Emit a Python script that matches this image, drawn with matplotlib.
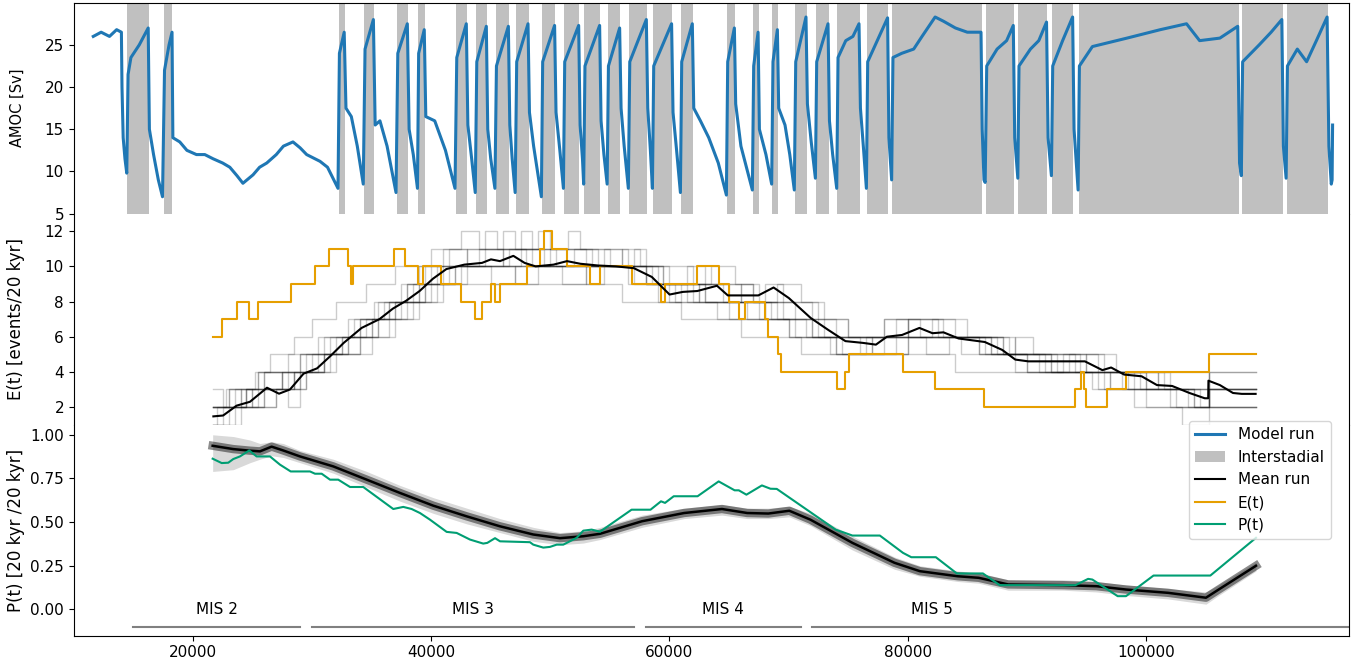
import matplotlib
matplotlib.use('Agg')
import matplotlib.pyplot as plt

# interstadial periods [yr]
is_start = [14494, 17574, 32237, 34386, 37130, 38893, 42082, 43761, 45414, 47118,
            49300, 51146, 52850, 54814, 56602, 58616, 60966, 64827, 67009, 68629,
            70534, 72297, 74085, 76577, 78701, 86565, 89276, 92104, 94345, 108051,
            111803]
is_end = [16316, 18271, 32766, 35200, 38053, 39480, 43005, 44684, 46530, 48184,
          50416, 52431, 54193, 55872, 58113, 60236, 61973, 65499, 67488, 69108,
          71516, 73363, 75964, 78365, 86229, 88915, 91710, 93892, 107799, 111467,
          115269]

# AMOC model run [Sv]
amoc_t = [11640, 12300, 13000, 13600, 14000, 14050, 14150, 14300, 14450,
          14560, 14800, 15500, 16250, 16350, 16700, 17100, 17450,
          17620, 18000, 18250, 18320, 18900, 19500, 20300, 21000, 21700, 22500,
          23100, 23700, 24200, 25050, 25600, 26200, 27000, 27600, 28400, 29000,
          29550, 30670, 31300, 31760, 32180,
          32300, 32700, 32850, 33300, 33800, 34300,
          34450, 35150, 35300, 35700, 36300, 37050,
          37200, 38000, 38150, 38500, 38850,
          38950, 39420, 39550, 40300, 41200, 42000,
          42150, 42950, 43080, 43400, 43700,
          43830, 44630, 44750, 45000, 45350,
          45480, 46480, 46600, 46800, 47050,
          47180, 48130, 48250, 48600, 49250,
          49360, 50360, 50480, 50800, 51100,
          51210, 52380, 52500, 52700, 52800,
          52910, 54140, 54260, 54500, 54770,
          54880, 55820, 55940, 56200, 56550,
          56670, 58060, 58180, 58400, 58570,
          58680, 60180, 60300, 60600, 60920,
          61030, 61920, 62040, 62600, 63300, 64100, 64780,
          64890, 65450, 65560, 66000, 66960,
          67070, 67440, 67550, 68100, 68580,
          68690, 69060, 69170, 69700, 70100, 70480,
          70600, 71460, 71580, 71900, 72250,
          72360, 73310, 73430, 73700, 74040,
          74150, 74800, 75400, 75910, 76030, 76300, 76530,
          76640, 78310, 78420, 78650,
          78760, 79500, 80500, 81200, 82300, 83000, 84000, 85000, 86150, 86250,
          86400, 86500,
          86630, 87500, 88300, 88860, 88980, 89240,
          89340, 90300, 91000, 91650, 91780, 92060,
          92170, 93000, 93840, 93960, 94300,
          94410, 95500, 98400, 101200, 103400, 104500, 106200, 107700, 107850,
          108000,
          108110, 109500, 110500, 111400, 111530, 111760,
          111870, 112700, 113480, 114300, 115200, 115350, 115550, 115620, 115660]
amoc_v = [26.0, 26.5, 26.0, 26.8, 26.5, 20.0, 14.0, 11.5, 9.8,
          21.5, 23.5, 25.0, 27.0, 15.0, 12.0, 9.0, 7.0,
          22.0, 25.0, 26.5, 14.0, 13.5, 12.5, 12.0, 12.0, 11.5, 11.0,
          10.5, 9.5, 8.6, 9.6, 10.5, 11.0, 12.0, 13.0, 13.5, 12.8,
          12.0, 11.2, 10.5, 9.2, 8.0,
          24.0, 26.5, 17.5, 16.5, 13.0, 8.5,
          24.5, 28.0, 15.5, 16.0, 13.0, 7.5,
          24.0, 27.5, 15.0, 12.0, 8.0,
          24.0, 26.8, 16.5, 16.0, 12.5, 8.0,
          23.5, 27.5, 15.5, 11.5, 7.5,
          23.0, 27.2, 15.0, 11.5, 8.0,
          22.5, 27.2, 15.5, 11.5, 7.5,
          23.0, 27.5, 17.0, 13.0, 7.0,
          23.0, 27.3, 17.0, 12.5, 8.0,
          23.0, 27.3, 15.5, 11.5, 8.5,
          22.5, 27.3, 16.0, 12.0, 8.5,
          22.5, 27.0, 17.5, 13.0, 8.0,
          23.0, 28.0, 17.5, 12.5, 8.0,
          22.5, 27.5, 17.0, 12.5, 7.5,
          23.0, 27.5, 17.5, 16.0, 14.0, 11.0, 7.2,
          23.0, 27.0, 18.0, 13.0, 7.8,
          22.5, 26.5, 15.0, 12.0, 8.5,
          23.0, 26.8, 17.5, 15.5, 12.0, 7.8,
          23.0, 28.3, 18.0, 13.5, 9.2,
          23.0, 27.5, 16.0, 12.0, 8.0,
          23.5, 25.5, 26.0, 27.5, 17.5, 12.5, 8.0,
          23.0, 28.2, 14.0, 9.0,
          23.5, 24.0, 24.5, 26.0, 28.3, 27.8, 27.0, 26.5, 26.5, 15.0,
          9.0, 8.7,
          22.5, 24.5, 25.5, 27.3, 14.0, 9.2,
          22.5, 24.5, 25.5, 27.7, 14.0, 9.5,
          22.5, 25.5, 28.3, 15.0, 7.8,
          22.5, 24.8, 25.8, 26.8, 27.5, 25.5, 25.8, 27.2, 11.0,
          9.5,
          23.0, 25.0, 26.5, 28.0, 13.0, 9.2,
          22.5, 24.5, 23.0, 25.5, 28.3, 13.0, 8.5, 9.0, 15.5]

# E(t) from the record [events/20 kyr]
e_obs_t = [21720, 22470, 23670, 24680, 25460, 28240, 30220, 31460, 33000, 33300,
           33400, 36860, 37800, 38920, 39300, 40820, 42520, 43710, 44270, 45020,
           45400, 45780, 48020, 49140, 49450, 50160, 51400, 53350, 54130, 56830,
           59260, 59630, 62330, 64170, 64980, 65820, 66360, 68010, 68300, 69110,
           69400, 74040, 74700, 75030, 79600, 82270, 86400, 94030, 94540, 94800,
           94960, 96750, 98320, 105310, 109200]
e_obs_v = [6, 7, 8, 7, 8, 9, 10, 11, 10, 9,
           10, 11, 10, 9, 10, 9, 8, 7, 8, 9,
           8, 9, 10, 11, 12, 11, 10, 9, 10, 9,
           8, 9, 10, 9, 8, 7, 8, 7, 6, 5,
           4, 3, 4, 5, 4, 3, 2, 3, 4, 3,
           2, 3, 4, 5, 5]

# mean of the model runs
e_mean_t = [21720, 22540, 23670, 24790, 26220, 27230, 28150, 29290, 30420, 31540,
            32660, 34160, 35660, 36790, 37910, 39030, 40150, 41280, 42780, 44270,
            45020, 45770, 46900, 47840, 48770, 49520, 50270, 51400, 52520, 54020,
            55510, 57010, 58520, 60010, 61130, 62340, 63990, 64900, 66360, 67460,
            68740, 70020, 71850, 73300, 74770, 76230, 77330, 78250, 79520, 80980,
            82080, 83000, 84270, 86470, 87930, 89030, 90120, 94870, 96340, 97070,
            98160, 99630, 100920, 102190, 103650, 104930, 105220, 105240, 106200,
            107300, 108040, 109200]
e_mean_v = [1.47, 1.52, 2.08, 2.3, 3.1, 2.76, 3.0, 3.9, 4.2, 4.9,
            5.65, 6.5, 7.0, 7.6, 8.05, 8.6, 9.3, 9.85, 10.1, 10.2,
            10.4, 10.3, 10.6, 10.2, 10.0, 10.05, 10.1, 10.3, 10.15, 10.05,
            10.0, 9.9, 9.4, 8.4, 8.55, 8.6, 8.9, 8.35, 8.35, 8.35,
            8.8, 8.2, 7.07, 6.4, 5.75, 5.65, 5.55, 6.0, 6.1, 6.5,
            6.2, 6.25, 5.9, 5.7, 5.25, 4.7, 4.6, 4.6, 4.1, 4.25,
            3.85, 3.75, 3.25, 3.2, 2.8, 2.5, 2.5, 3.5, 3.25,
            2.8, 2.75, 2.75]

# some of the individual model runs, as (time, events) steps
ensemble_runs = [
    [(21700, 1), (23000, 2), (26000, 3), (29000, 4), (31500, 5), (34000, 6), (36500, 7),
     (39000, 8), (41000, 9), (56000, 8), (61000, 7), (66000, 6), (71000, 5), (84000, 4),
     (96000, 3), (100000, 2), (103000, 1), (105300, 2)],
    [(21700, 2), (24500, 3), (27500, 4), (29500, 5), (32000, 6), (34500, 7), (37000, 8),
     (39500, 9), (42000, 10), (47000, 9), (49000, 10), (58000, 9), (60500, 8), (64000, 7),
     (70500, 6), (76000, 5), (78000, 6), (87000, 5), (90000, 4), (100000, 3), (104000, 2),
     (105300, 3)],
    [(21700, 2), (22800, 3), (25200, 4), (27500, 3), (28500, 4), (30000, 5), (32500, 6),
     (34000, 7), (35200, 8), (38000, 9), (40000, 10), (44000, 11), (46000, 10), (52000, 11),
     (54000, 10), (59500, 9), (63000, 8), (68500, 7), (72000, 6), (79000, 7), (81000, 6),
     (89000, 5), (96000, 4), (105300, 3)],
    [(21700, 2), (25500, 3), (27500, 4), (29000, 5), (31500, 6), (34000, 7), (36500, 8),
     (38000, 9), (39500, 10), (41500, 11), (44500, 12), (45500, 11), (48000, 10), (50000, 11),
     (55000, 10), (58500, 9), (61500, 8), (62500, 9), (65000, 8), (69000, 7), (73000, 6),
     (78000, 7), (80000, 6), (88000, 5), (92000, 4), (97000, 3), (102000, 2), (105300, 4)],
    [(21700, 1), (23500, 2), (24500, 3), (26000, 4), (28500, 3), (29500, 4), (31000, 5),
     (33000, 6), (35000, 7), (37000, 8), (38500, 9), (40500, 10), (43000, 11), (47500, 12),
     (48500, 11), (50500, 10), (56000, 11), (57500, 10), (60000, 9), (66000, 8), (68000, 9),
     (69500, 8), (72500, 7), (75000, 6), (78000, 7), (85000, 6), (88500, 5), (94000, 4),
     (98000, 3), (105300, 2)],
    [(21700, 1), (22500, 2), (25000, 3), (28000, 2), (29000, 4), (32000, 5), (35000, 6),
     (37000, 7), (38500, 8), (40000, 9), (43000, 10), (51000, 9), (53000, 10), (57000, 9),
     (63000, 8), (67500, 7), (70000, 6), (74000, 5), (80000, 6), (84500, 5), (91000, 4),
     (95000, 5), (97500, 4), (101000, 3), (104000, 2), (105300, 2)],
    [(21700, 2), (23000, 3), (26000, 4), (28000, 5), (30500, 6), (33000, 7), (35500, 8),
     (37500, 9), (39000, 10), (41000, 11), (43000, 10), (46000, 11), (49000, 12), (50000, 11),
     (53000, 10), (57000, 11), (58000, 10), (62000, 9), (67000, 8), (69000, 9), (71000, 8),
     (73000, 7), (75000, 6), (80000, 7), (82500, 6), (86000, 5), (92000, 4), (99500, 3),
     (105300, 3)],
    [(21700, 2), (23000, 3), (24000, 2), (26000, 3), (28000, 4), (30500, 5), (33000, 6),
     (35500, 7), (36500, 8), (39000, 9), (42000, 10), (45000, 9), (47000, 10), (56500, 9),
     (59000, 8), (61000, 9), (62500, 8), (66500, 7), (70000, 6), (73500, 5), (77000, 6),
     (80000, 7), (83000, 6), (87500, 5), (90000, 4), (93500, 5), (96500, 4), (101500, 3),
     (103500, 2), (105300, 3)],
    [(21700, 1), (22000, 2), (24000, 3), (25000, 2), (27000, 3), (29500, 4), (31000, 5),
     (32500, 6), (35000, 7), (37500, 8), (40500, 9), (42500, 10), (46500, 11), (48500, 10),
     (53000, 9), (54500, 10), (58000, 9), (60000, 8), (65000, 7), (68000, 8), (70500, 7),
     (72000, 6), (77000, 5), (80000, 6), (86000, 5), (89000, 4), (96500, 3), (99000, 2),
     (105300, 3)],
    [(21700, 3), (22500, 2), (24500, 3), (25500, 4), (26500, 5), (28500, 6), (30000, 7),
     (32000, 8), (34500, 9), (37000, 10), (40000, 11), (42500, 12), (44000, 11), (48000, 11),
     (51500, 12), (52500, 11), (56000, 10), (59000, 9), (63500, 10), (65500, 9), (67500, 8),
     (72000, 7), (74000, 6), (82000, 7), (84000, 6), (88000, 5), (91500, 4), (93000, 5),
     (95000, 4), (98500, 3), (102500, 2), (105300, 2)],
    [(21700, 2), (23500, 3), (25500, 4), (29000, 5), (31000, 6), (33500, 7), (36000, 8),
     (39000, 9), (41000, 10), (47500, 11), (53500, 10), (58000, 9), (61500, 10), (63000, 9),
     (64500, 8), (68000, 7), (72500, 6), (74500, 5), (79000, 6), (87000, 5), (89000, 6),
     (90500, 5), (94500, 4), (99000, 3), (101000, 4), (102000, 3), (105300, 4)],
    [(21700, 1), (24000, 2), (27000, 3), (28500, 4), (31000, 5), (34000, 6), (35500, 7),
     (38000, 8), (39500, 9), (41500, 10), (44500, 11), (46000, 12), (47000, 11), (49500, 10),
     (54500, 11), (56500, 10), (59500, 9), (62000, 8), (66000, 9), (67000, 8), (69500, 7),
     (71500, 6), (74000, 5), (76500, 6), (81500, 5), (83500, 6), (86500, 5), (92500, 4),
     (95500, 3), (97000, 4), (100000, 3), (104500, 2), (105300, 3)],
]
run_end = 109200

# P(t) from the record [20 kyr / 20 kyr]
p_obs_t = [21660, 22420, 22970, 23390, 23950, 24730, 25350, 26470, 27310, 28210,
           29830, 30250, 30810, 31510, 32200, 33190, 34300, 36820, 37660, 38360,
           39060, 39900, 41300, 42140, 43260, 44370, 44710, 45360, 45780, 48290,
           48570, 49410, 49970, 50540, 51090, 52210, 52770, 53470, 54170, 56820,
           58410, 59290, 59630, 60360, 62360, 64130, 65470, 65820, 66460, 67760,
           68480, 69010, 69710, 73950, 75360, 77660, 79600, 80300, 82360, 84120,
           86310, 87720, 94080, 95140, 95500, 97620, 98320, 100630, 105400, 109230]
p_obs_v = [0.863, 0.838, 0.84, 0.861, 0.876, 0.91, 0.876, 0.876, 0.829, 0.79,
           0.79, 0.777, 0.777, 0.743, 0.743, 0.701, 0.701, 0.575, 0.587, 0.575,
           0.552, 0.514, 0.444, 0.438, 0.40, 0.377, 0.381, 0.408, 0.39, 0.385,
           0.371, 0.354, 0.358, 0.371, 0.371, 0.41, 0.451, 0.457, 0.445, 0.571,
           0.571, 0.619, 0.61, 0.648, 0.648, 0.733, 0.682, 0.682, 0.657, 0.71,
           0.691, 0.69, 0.657, 0.457, 0.423, 0.423, 0.324, 0.299, 0.299, 0.206,
           0.206, 0.139, 0.139, 0.175, 0.171, 0.076, 0.076, 0.194, 0.194, 0.41]

# model runs: mean and spread
p_mean_t = [21660, 23390, 24790, 25630, 26610, 27590, 28990, 31780, 34590, 37380,
            40180, 42980, 45770, 48570, 50810, 52770, 54170, 57700, 61230, 64410,
            66530, 68300, 70060, 71830, 75360, 78890, 81020, 84190, 85960, 88430,
            93030, 95850, 98320, 101860, 105030, 106100, 109230]
p_mean_v = [0.937, 0.918, 0.909, 0.905, 0.932, 0.91, 0.876, 0.819, 0.743, 0.667,
            0.594, 0.533, 0.476, 0.429, 0.408, 0.419, 0.433, 0.505, 0.552, 0.575,
            0.552, 0.549, 0.565, 0.514, 0.381, 0.267, 0.219, 0.19, 0.181, 0.143,
            0.139, 0.133, 0.114, 0.095, 0.067, 0.114, 0.25]
p_low = [0.79, 0.80, 0.84, 0.86, 0.88, 0.87, 0.84, 0.78, 0.70, 0.62,
         0.55, 0.49, 0.44, 0.39, 0.37, 0.38, 0.40, 0.47, 0.52, 0.54,
         0.52, 0.52, 0.53, 0.48, 0.34, 0.23, 0.19, 0.16, 0.15, 0.11,
         0.11, 0.10, 0.08, 0.06, 0.03, 0.08, 0.22]
p_high = [1.0, 0.99, 0.97, 0.95, 0.96, 0.95, 0.91, 0.86, 0.79, 0.71,
          0.64, 0.58, 0.52, 0.47, 0.44, 0.45, 0.47, 0.54, 0.58, 0.60,
          0.58, 0.58, 0.59, 0.55, 0.42, 0.30, 0.25, 0.22, 0.21, 0.17,
          0.17, 0.16, 0.14, 0.12, 0.10, 0.14, 0.27]

# marine isotope stages
mis_names = ['MIS 2', 'MIS 3', 'MIS 4', 'MIS 5']
mis_from = [15000, 30000, 58000, 72000]
mis_to = [29000, 57000, 71000, 130000]
mis_text_x = [22000, 43500, 64500, 82000]

c_model = '#1f77b4'
c_is = '#c0c0c0'
c_e = '#E69F00'
c_p = '#009E73'

plt.rcParams['font.size'] = 11

fig, (ax1, ax2, ax3) = plt.subplots(3, 1, sharex=True, figsize=(13.63, 6.66), dpi=100,
                                    gridspec_kw=dict(hspace=0))
fig.subplots_adjust(left=0.0541, right=0.9894, top=0.996, bottom=0.0456)

# top: AMOC and interstadials
for i, (s, e) in enumerate(zip(is_start, is_end)):
    span = ax1.axvspan(s, e, color=c_is, lw=0)
    if i == 0:
        h_is = span
h_model, = ax1.plot(amoc_t, amoc_v, color=c_model, lw=2.2)
ax1.set_ylim(5, 30)
ax1.set_yticks([5, 10, 15, 20, 25])
ax1.set_ylabel('AMOC [Sv]', fontsize=10.5)

# middle: event counts
for run in ensemble_runs:
    t = [p[0] for p in run] + [run_end]
    v = [p[1] for p in run] + [run[-1][1]]
    ax2.step(t, v, where='post', color='k', alpha=0.2, lw=1)
h_E, = ax2.step(e_obs_t, e_obs_v, where='post', color=c_e, lw=1.5)
h_mean, = ax2.plot(e_mean_t, e_mean_v, color='k', lw=1.5)
ax2.set_ylim(1, 13)
ax2.set_yticks([2, 4, 6, 8, 10, 12])
ax2.set_ylabel('E(t) [events/20 kyr]', fontsize=12)

# bottom: persistence
ax3.fill_between(p_mean_t, p_low, p_high, color='k', alpha=0.15, lw=0)
ax3.plot(p_mean_t, p_mean_v, color='k', lw=6, alpha=0.45)
ax3.plot(p_mean_t, p_mean_v, color='k', lw=1.8)
h_P, = ax3.plot(p_obs_t, p_obs_v, color=c_p, lw=1.5)
for name, a, b, x in zip(mis_names, mis_from, mis_to, mis_text_x):
    ax3.plot([a, b], [-0.1, -0.1], color='grey', lw=1.5)
    ax3.text(x, 0.0, name, ha='center', va='center')
ax3.set_ylim(-0.15, 1.058)
ax3.set_yticks([0, 0.25, 0.5, 0.75, 1.0])
ax3.set_ylabel('P(t) [20 kyr /20 kyr]', fontsize=12)
ax3.set_xlim(10000, 117000)
ax3.set_xticks([20000, 40000, 60000, 80000, 100000])

ax1.spines['bottom'].set_visible(False)
ax2.spines['top'].set_visible(False)
ax2.spines['bottom'].set_visible(False)
ax3.spines['top'].set_visible(False)
ax1.tick_params(axis='x', bottom=False)
ax2.tick_params(axis='x', bottom=False)

ax3.legend([h_model, h_is, h_mean, h_E, h_P],
           ['Model run', 'Interstadial', 'Mean run', 'E(t)', 'P(t)'],
           loc='upper right', bbox_to_anchor=(0.986, 1.017), borderaxespad=0)

fig.align_ylabels([ax1, ax2, ax3])
fig.savefig('out.png', dpi=100)
